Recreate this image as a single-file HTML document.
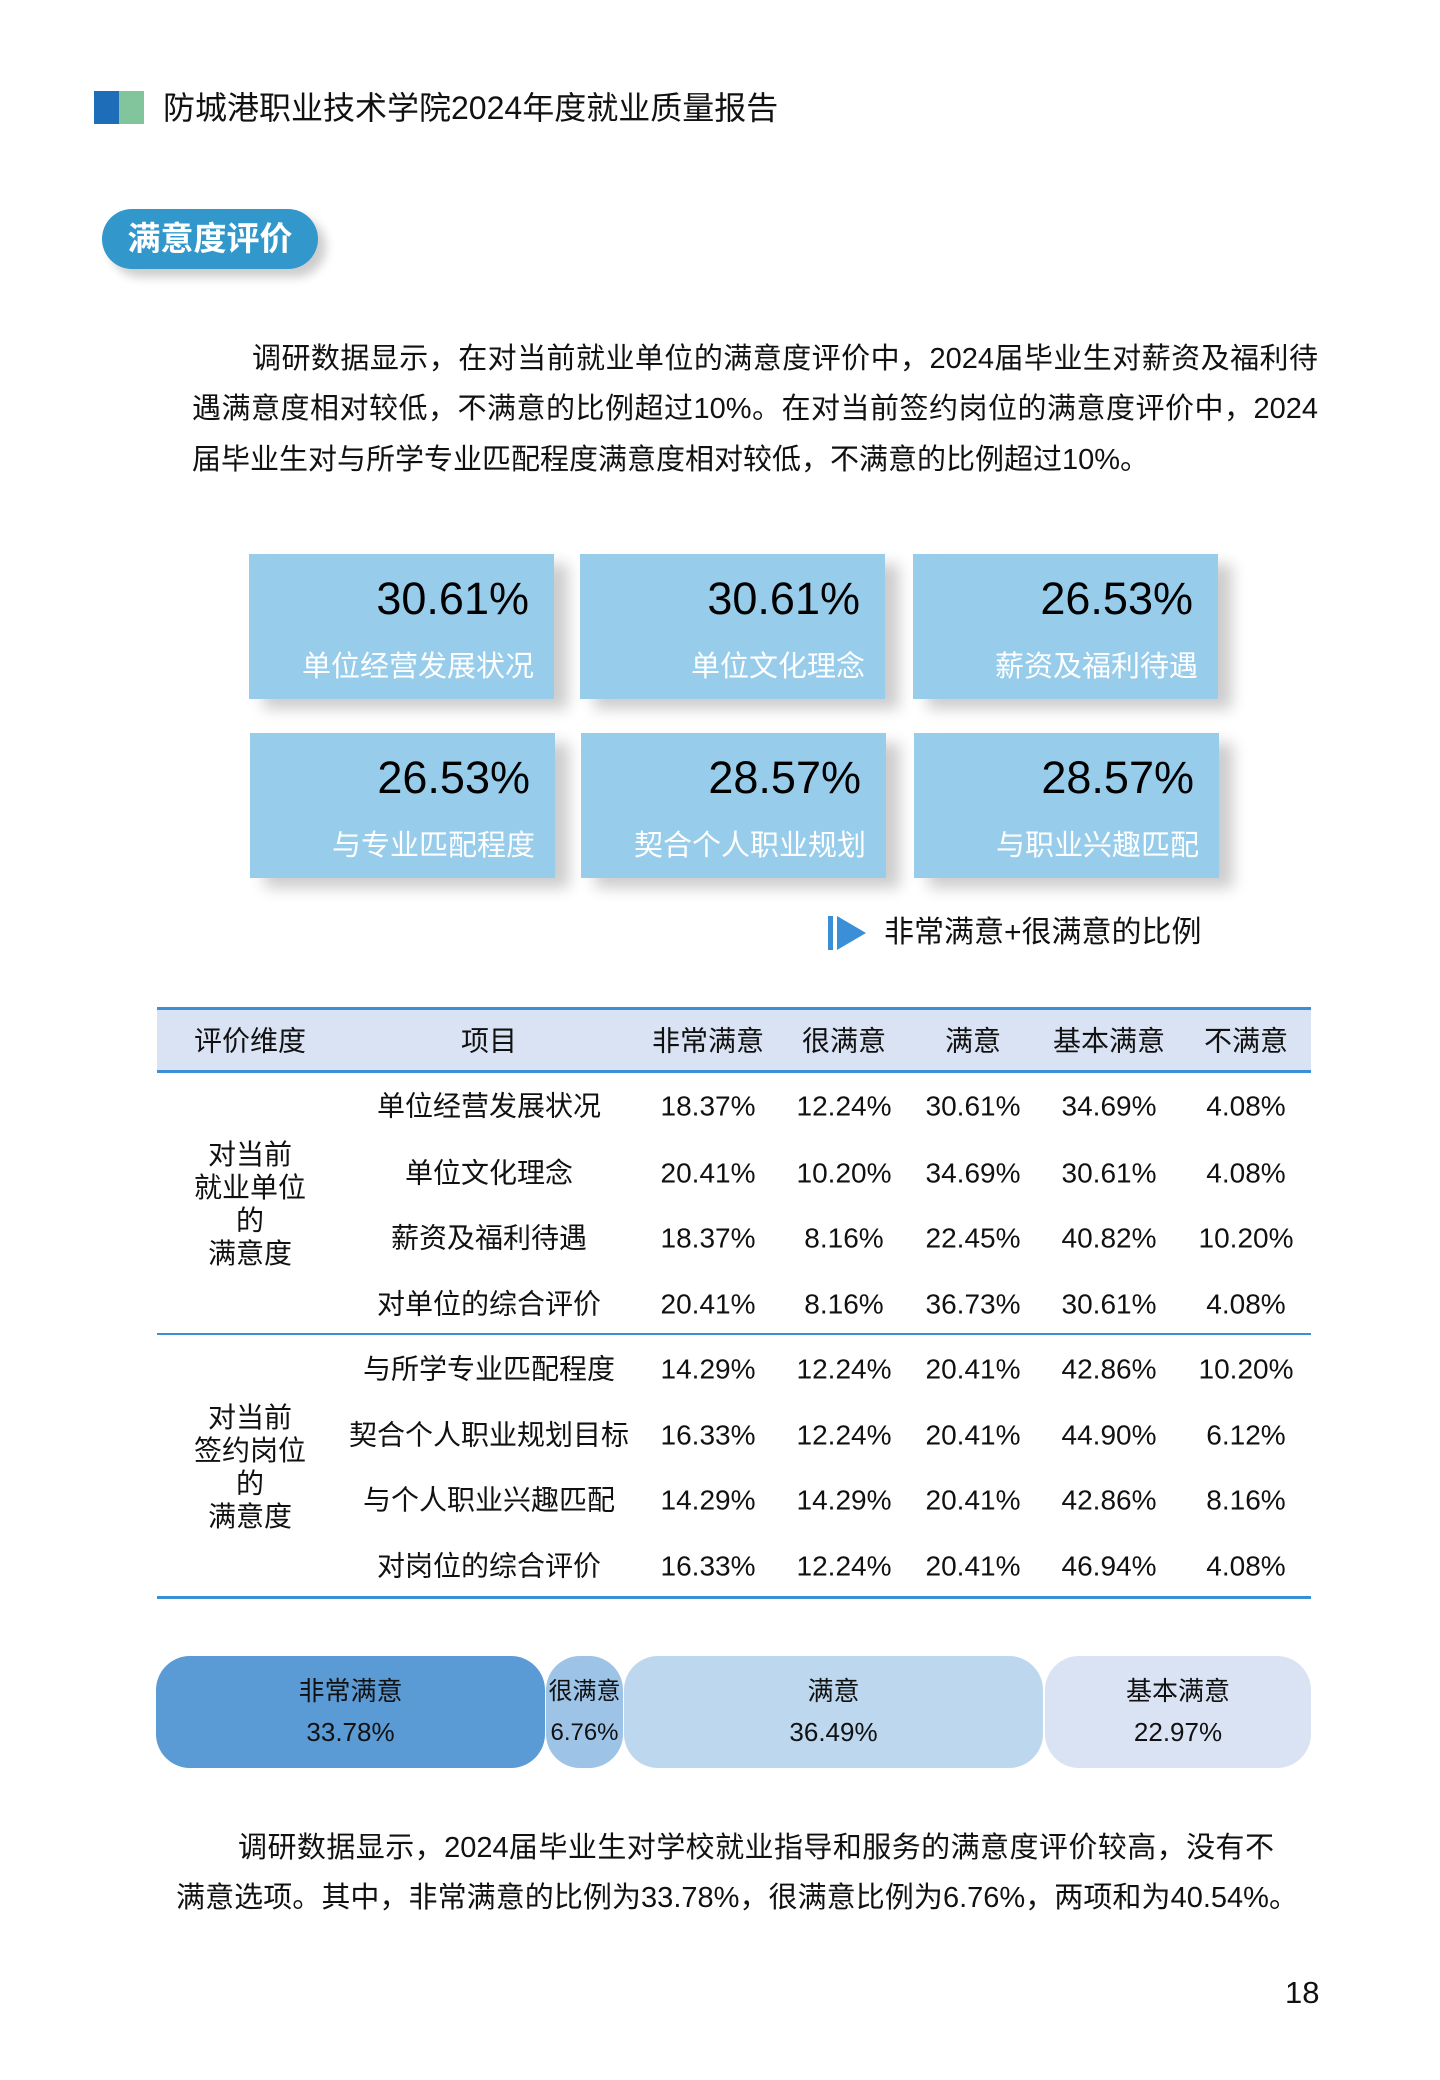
<!DOCTYPE html>
<html><head><meta charset="utf-8"><style>
*{margin:0;padding:0;box-sizing:border-box}
body{width:1440px;height:2080px;background:#fff;position:relative;font-family:"Liberation Sans","Noto Sans CJK SC",sans-serif;color:#111;overflow:hidden}
.a{position:absolute}
.p{position:absolute;font-size:29px;line-height:50px;text-align:justify;text-align-last:justify;white-space:nowrap}
.card{position:absolute;width:305px;height:145px;background:#97cdeb;box-shadow:14px 10px 14px rgba(0,0,0,0.2)}
.card .n{position:absolute;right:25px;top:17px;font-size:45px;line-height:56px;color:#000}
.card .l{position:absolute;right:20px;top:95px;font-size:29px;line-height:36px;color:#fff}
.c{position:absolute;transform:translate(-50%,-50%);font-size:28px;white-space:nowrap;text-align:center;line-height:33px}
.seg{position:absolute;top:1656px;height:112px;display:flex;flex-direction:column;align-items:center;justify-content:center;font-size:26px;line-height:41px;white-space:nowrap}
</style></head><body>
<div class="a" style="left:94px;top:91px;width:25px;height:33px;background:#1e6db8"></div>
<div class="a" style="left:119px;top:91px;width:25px;height:33px;background:#82c59c"></div>
<div class="a" style="left:163px;top:88px;font-size:32px;line-height:40px">防城港职业技术学院2024年度就业质量报告</div>
<div class="a" style="left:102px;top:209px;width:216px;height:60px;border-radius:30px;background:#3298cb;box-shadow:8px 8px 10px rgba(0,0,0,0.2);color:#fff;font-weight:bold;font-size:33px;line-height:60px;text-align:center">满意度评价</div>
<div class="p" style="left:252px;top:334px;width:1066px">调研数据显示，在对当前就业单位的满意度评价中，2024届毕业生对薪资及福利待</div>
<div class="p" style="left:192px;top:384px;width:1126px">遇满意度相对较低，不满意的比例超过10%。在对当前签约岗位的满意度评价中，2024</div>
<div class="p" style="left:192px;top:435px;text-align-last:left">届毕业生对与所学专业匹配程度满意度相对较低，不满意的比例超过10%。</div>

<div class="card" style="left:249px;top:554px"><div class="n">30.61%</div><div class="l">单位经营发展状况</div></div>
<div class="card" style="left:580px;top:554px"><div class="n">30.61%</div><div class="l">单位文化理念</div></div>
<div class="card" style="left:913px;top:554px"><div class="n">26.53%</div><div class="l">薪资及福利待遇</div></div>
<div class="card" style="left:250px;top:733px"><div class="n">26.53%</div><div class="l">与专业匹配程度</div></div>
<div class="card" style="left:581px;top:733px"><div class="n">28.57%</div><div class="l">契合个人职业规划</div></div>
<div class="card" style="left:914px;top:733px"><div class="n">28.57%</div><div class="l">与职业兴趣匹配</div></div>

<svg class="a" style="left:828px;top:914px" width="40" height="38"><rect x="0" y="2" width="5" height="34" fill="#3a8fd6"/><polygon points="9,2 38,19 9,36" fill="#3a8fd6"/></svg>
<div class="a" style="left:884px;top:914px;font-size:30px;line-height:38px">非常满意+很满意的比例</div>

<div class="a" style="left:157px;top:1007px;width:1154px;height:66px;background:#dae3f3;border-top:3px solid #3a8fd6;border-bottom:3px solid #3a8fd6"></div>
<div class="a" style="left:157px;top:1333px;width:1154px;height:2px;background:#3a8fd6"></div>
<div class="a" style="left:157px;top:1596px;width:1154px;height:3px;background:#3a8fd6"></div>

<div class="seg" style="left:156px;width:389px;background:#5b9bd5;border-radius:34px"><div>非常满意</div><div>33.78%</div></div>
<div class="seg" style="left:546px;width:77px;background:#9dc3e6;border-radius:34px;font-size:24px"><div>很满意</div><div>6.76%</div></div>
<div class="seg" style="left:624px;width:419px;background:#bdd7ee;border-radius:34px"><div>满意</div><div>36.49%</div></div>
<div class="seg" style="left:1045px;width:266px;background:#dae3f3;border-radius:34px"><div>基本满意</div><div>22.97%</div></div>

<div class="p" style="left:238px;top:1823px;width:1036px">调研数据显示，2024届毕业生对学校就业指导和服务的满意度评价较高，没有不</div>
<div class="p" style="left:176px;top:1873px;width:1122px">满意选项。其中，非常满意的比例为33.78%，很满意比例为6.76%，两项和为40.54%。</div>
<div class="a" style="left:1285px;top:1974px;font-size:31px;line-height:38px">18</div>

<div class="c" style="left:250px;top:1041px">评价维度</div>
<div class="c" style="left:489px;top:1041px">项目</div>
<div class="c" style="left:708px;top:1041px">非常满意</div>
<div class="c" style="left:844px;top:1041px">很满意</div>
<div class="c" style="left:973px;top:1041px">满意</div>
<div class="c" style="left:1109px;top:1041px">基本满意</div>
<div class="c" style="left:1246px;top:1041px">不满意</div>
<div class="c" style="left:250px;top:1204px">对当前<br>就业单位<br>的<br>满意度</div>
<div class="c" style="left:250px;top:1467px">对当前<br>签约岗位<br>的<br>满意度</div>

<div class="c" style="left:489px;top:1106px">单位经营发展状况</div><div class="c" style="left:708px;top:1106px">18.37%</div><div class="c" style="left:844px;top:1106px">12.24%</div><div class="c" style="left:973px;top:1106px">30.61%</div><div class="c" style="left:1109px;top:1106px">34.69%</div><div class="c" style="left:1246px;top:1106px">4.08%</div>
<div class="c" style="left:489px;top:1173px">单位文化理念</div><div class="c" style="left:708px;top:1173px">20.41%</div><div class="c" style="left:844px;top:1173px">10.20%</div><div class="c" style="left:973px;top:1173px">34.69%</div><div class="c" style="left:1109px;top:1173px">30.61%</div><div class="c" style="left:1246px;top:1173px">4.08%</div>
<div class="c" style="left:489px;top:1238px">薪资及福利待遇</div><div class="c" style="left:708px;top:1238px">18.37%</div><div class="c" style="left:844px;top:1238px">8.16%</div><div class="c" style="left:973px;top:1238px">22.45%</div><div class="c" style="left:1109px;top:1238px">40.82%</div><div class="c" style="left:1246px;top:1238px">10.20%</div>
<div class="c" style="left:489px;top:1304px">对单位的综合评价</div><div class="c" style="left:708px;top:1304px">20.41%</div><div class="c" style="left:844px;top:1304px">8.16%</div><div class="c" style="left:973px;top:1304px">36.73%</div><div class="c" style="left:1109px;top:1304px">30.61%</div><div class="c" style="left:1246px;top:1304px">4.08%</div>
<div class="c" style="left:489px;top:1369px">与所学专业匹配程度</div><div class="c" style="left:708px;top:1369px">14.29%</div><div class="c" style="left:844px;top:1369px">12.24%</div><div class="c" style="left:973px;top:1369px">20.41%</div><div class="c" style="left:1109px;top:1369px">42.86%</div><div class="c" style="left:1246px;top:1369px">10.20%</div>
<div class="c" style="left:489px;top:1435px">契合个人职业规划目标</div><div class="c" style="left:708px;top:1435px">16.33%</div><div class="c" style="left:844px;top:1435px">12.24%</div><div class="c" style="left:973px;top:1435px">20.41%</div><div class="c" style="left:1109px;top:1435px">44.90%</div><div class="c" style="left:1246px;top:1435px">6.12%</div>
<div class="c" style="left:489px;top:1500px">与个人职业兴趣匹配</div><div class="c" style="left:708px;top:1500px">14.29%</div><div class="c" style="left:844px;top:1500px">14.29%</div><div class="c" style="left:973px;top:1500px">20.41%</div><div class="c" style="left:1109px;top:1500px">42.86%</div><div class="c" style="left:1246px;top:1500px">8.16%</div>
<div class="c" style="left:489px;top:1566px">对岗位的综合评价</div><div class="c" style="left:708px;top:1566px">16.33%</div><div class="c" style="left:844px;top:1566px">12.24%</div><div class="c" style="left:973px;top:1566px">20.41%</div><div class="c" style="left:1109px;top:1566px">46.94%</div><div class="c" style="left:1246px;top:1566px">4.08%</div>
</body></html>
